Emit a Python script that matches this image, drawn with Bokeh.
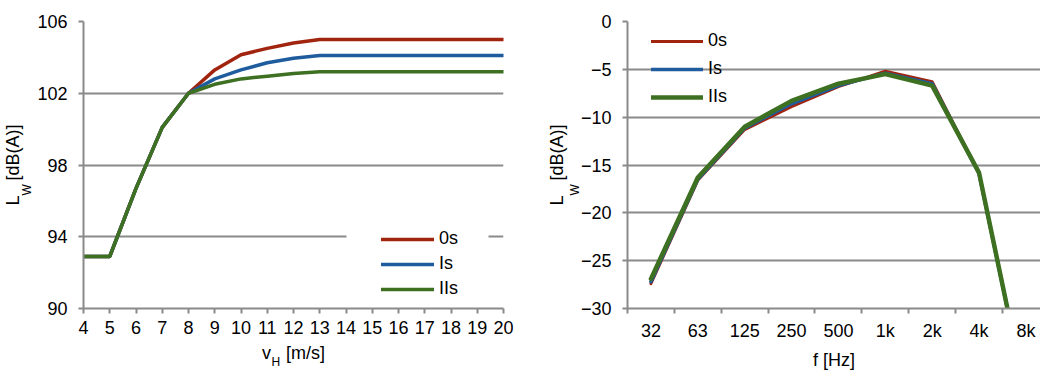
import math
from bokeh.plotting import figure
from bokeh.models import Range1d, FixedTicker, Label, Legend, LegendItem, BoxAnnotation
from bokeh.layouts import row
from bokeh.embed import file_html
from bokeh.resources import INLINE

# ---------------- data ----------------
speeds = [4, 5, 6, 7, 8, 9, 10, 11, 12, 13, 14, 15, 16, 17, 18, 19, 20]
lw_0s = [92.9, 92.9, 96.7, 100.1, 102.0, 103.3, 104.15, 104.5, 104.8, 105.0,
         105.0, 105.0, 105.0, 105.0, 105.0, 105.0, 105.0]
lw_Is = [92.9, 92.9, 96.7, 100.1, 102.0, 102.8, 103.3, 103.7, 103.95, 104.1,
         104.1, 104.1, 104.1, 104.1, 104.1, 104.1, 104.1]
lw_IIs = [92.9, 92.9, 96.7, 100.1, 102.0, 102.5, 102.8, 102.95, 103.1, 103.2,
          103.2, 103.2, 103.2, 103.2, 103.2, 103.2, 103.2]
y1_ticks = [90, 94, 98, 102, 106]

freq_labels = ["32", "63", "125", "250", "500", "1k", "2k", "4k", "8k"]
spec_0s = [-27.4, -16.6, -11.3, -8.9, -6.8, -5.2, -6.3, -15.9, -39.2]
spec_Is = [-27.2, -16.5, -11.15, -8.6, -6.7, -5.4, -6.5, -15.9, -39.2]
spec_IIs = [-26.9, -16.3, -11.0, -8.3, -6.5, -5.5, -6.7, -15.8, -39.2]
y2_ticks = [-30, -25, -20, -15, -10, -5, 0]

series_names = ["0s", "Is", "IIs"]
colors = ["#A0240E", "#1E5C9E", "#3E7022"]

# ---------------- style ----------------
FONT = "Liberation Sans"
GRAY = "#8a8a8a"
TXT = "#000000"
NB = "\u00a0"
H = 372
TOP, BOT = 21, 63
FRAME_TOP = TOP
FRAME_BOT = H - BOT
FRAME_H = FRAME_BOT - FRAME_TOP


def style(p):
    p.outline_line_color = None
    p.xgrid.visible = False
    p.ygrid.grid_line_color = GRAY
    p.ygrid.grid_line_width = 2
    for ax in p.axis:
        ax.axis_line_color = GRAY
        ax.axis_line_width = 2
        ax.major_tick_line_color = GRAY
        ax.major_tick_line_width = 2
        ax.major_tick_out = 5
        ax.major_tick_in = 0
        ax.minor_tick_line_color = None
        ax.major_label_text_font = FONT
        ax.major_label_text_font_size = "18px"
        ax.major_label_text_color = TXT
        ax.axis_label_text_font = FONT
        ax.axis_label_text_font_size = "18px"
        ax.axis_label_text_font_style = "normal"
        ax.axis_label_text_color = TXT
    p.xaxis.major_label_standoff = 7
    p.yaxis.major_label_standoff = 11
    p.xaxis.axis_label_standoff = 6
    p.yaxis.axis_label_standoff = 11


def sub(p, place, x, y, text, angle=0.0):
    p.add_layout(Label(x=x, y=y, text=text, angle=angle, text_font=FONT,
                       text_font_size="12px", text_color=TXT, text_align="left",
                       text_baseline="alphabetic"), place)


YLABEL = "L" + NB * 3 + "[dB(A)]"
yc = (FRAME_TOP + FRAME_BOT) / 2.0
Y_HALF = (10.0 + 15.0 + 56.0) / 2.0   # half length of the rotated y label

# ---------------- left chart ----------------
W1 = 520
B1L, B1R = 83, 17
F1L = B1L
F1R = W1 - B1R
p1 = figure(width=W1, height=H, x_range=Range1d(4, 20), y_range=Range1d(90, 106),
            output_backend="svg", toolbar_location=None, title=None,
            min_border_left=B1L, min_border_right=B1R,
            min_border_top=TOP, min_border_bottom=BOT)
style(p1)
p1.xaxis.ticker = FixedTicker(ticks=speeds)
p1.yaxis.ticker = FixedTicker(ticks=y1_ticks)
p1.ygrid.ticker = FixedTicker(ticks=y1_ticks)
p1.yaxis.axis_label = YLABEL
p1.xaxis.axis_label = "v" + NB * 3 + "[m/s]"


def fx1(px):
    return 4 + (px - F1L) * 16.0 / (F1R - F1L)


def fy1(py):
    return 106 - (py - FRAME_TOP) * 16.0 / FRAME_H


# white legend background (breaks the 94 grid line like the original)
p1.add_layout(BoxAnnotation(left=fx1(346), right=fx1(488), bottom=92.7, top=95.3,
                            fill_color="white", fill_alpha=1.0, line_color=None))

r1 = []
for vals, c in zip([lw_0s, lw_Is, lw_IIs], colors):
    r1.append(p1.line(speeds, vals, line_color=c, line_width=3.5,
                      line_join="round", line_cap="round"))

leg1 = Legend(items=[LegendItem(label=n, renderers=[r]) for n, r in zip(series_names, r1)],
              location=(298, 9), orientation="vertical",
              glyph_width=53, glyph_height=20, label_height=20, label_standoff=5,
              spacing=4, padding=2, margin=0, border_line_color=None,
              background_fill_alpha=0, label_text_font=FONT,
              label_text_font_size="18px", label_text_color=TXT)
p1.add_layout(leg1)

# subscripts (placed in side panels that have spare room)
sub(p1, "above", fx1(26.0), fy1(yc + Y_HALF - 10.0), "W", angle=math.pi / 2)
xc1 = (F1L + F1R) / 2.0
sub(p1, "right", fx1(xc1 - 31.5 + 9.5), fy1(362.5), "H")

# ---------------- right chart ----------------
W2 = 520
B2L, B2R = 107, 0
F2L = W1 + B2L
F2R = W1 + W2 - B2R
CAT_W = 46.87
x_end = (F2R - F2L) / CAT_W
p2 = figure(width=W2, height=H, x_range=Range1d(0, x_end), y_range=Range1d(-30, 0),
            output_backend="svg", toolbar_location=None, title=None,
            min_border_left=B2L, min_border_right=B2R,
            min_border_top=TOP, min_border_bottom=BOT)
style(p2)
centers = [i + 0.5 for i in range(len(freq_labels))]
bounds = [i for i in range(len(freq_labels))]
p2.xaxis.ticker = FixedTicker(ticks=centers, minor_ticks=bounds)
p2.xaxis.major_label_overrides = {c: t for c, t in zip(centers, freq_labels)}
p2.xaxis.major_tick_line_color = None
p2.xaxis.minor_tick_line_color = GRAY
p2.xaxis.minor_tick_line_width = 2
p2.xaxis.minor_tick_out = 5
p2.xaxis.minor_tick_in = 0
p2.yaxis.ticker = FixedTicker(ticks=y2_ticks)
p2.ygrid.ticker = FixedTicker(ticks=y2_ticks)
p2.yaxis.axis_label = YLABEL
p2.xaxis.axis_label = "f [Hz]"


def fx2(px):
    return (px - F2L) / CAT_W


def fy2(py):
    return 0 - (py - FRAME_TOP) * 30.0 / FRAME_H


r2 = []
for vals, c, w in zip([spec_0s, spec_Is, spec_IIs], colors, [3.0, 3.5, 4.5]):
    r2.append(p2.line(centers, vals, line_color=c, line_width=w,
                      line_join="round", line_cap="round"))

leg2 = Legend(items=[LegendItem(label=n, renderers=[r]) for n, r in zip(series_names, r2)],
              location=(24, 201), orientation="vertical",
              glyph_width=52, glyph_height=20, label_height=20, label_standoff=5,
              spacing=7, padding=2, margin=0, border_line_color=None,
              background_fill_alpha=0, label_text_font=FONT,
              label_text_font_size="18px", label_text_color=TXT)
p2.add_layout(leg2)

sub(p2, "above", fx2(574.0), fy2(yc + Y_HALF - 10.0), "W", angle=math.pi / 2)

layout = row(p1, p2)
open("out.html", "w").write(file_html(layout, INLINE))
